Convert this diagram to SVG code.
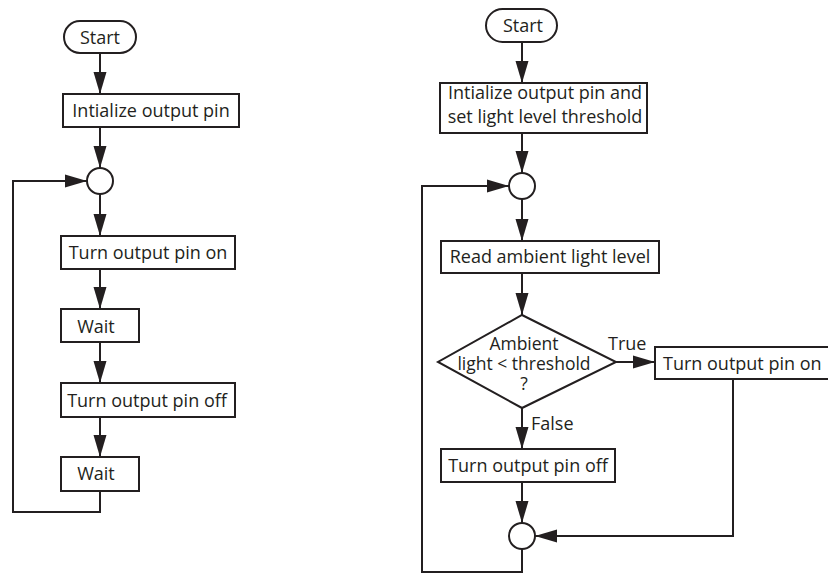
<svg xmlns="http://www.w3.org/2000/svg" width="828" height="573" viewBox="0 0 828 573">
<style>
.n{fill:#fff;stroke:#231f20;stroke-width:2}
.c{fill:none;stroke:#231f20;stroke-width:2}
text{font-family:"Open Sans","Noto Sans","Liberation Sans",sans-serif;font-size:18px;fill:#231f20}
.m{text-anchor:middle}
.d{font-size:17.5px}
</style>
<defs>
<marker id="ah" markerUnits="userSpaceOnUse" markerWidth="23" markerHeight="14" refX="22" refY="7" orient="auto">
<path d="M0,0.5 L22,7 L0,13.5 Z" fill="#231f20"/>
</marker>
</defs>
<rect width="828" height="573" fill="#fff"/>
<g id="connectors">
<path class="c" d="M100,53 V94" marker-end="url(#ah)"/>
<path class="c" d="M100,127 V168" marker-end="url(#ah)"/>
<path class="c" d="M100,194 V236" marker-end="url(#ah)"/>
<path class="c" d="M100,269 V309" marker-end="url(#ah)"/>
<path class="c" d="M100,342 V383" marker-end="url(#ah)"/>
<path class="c" d="M100,417 V457" marker-end="url(#ah)"/>
<path class="c" d="M100,491 V512 H13 V181 H87" marker-end="url(#ah)"/>
<path class="c" d="M522,42 V83" marker-end="url(#ah)"/>
<path class="c" d="M522,133 V173" marker-end="url(#ah)"/>
<path class="c" d="M522,199 V241" marker-end="url(#ah)"/>
<path class="c" d="M522,273 V315" marker-end="url(#ah)"/>
<path class="c" d="M616,362 H655" marker-end="url(#ah)"/>
<path class="c" d="M522,408 V449" marker-end="url(#ah)"/>
<path class="c" d="M522,482 V523" marker-end="url(#ah)"/>
<path class="c" d="M733,379 V536 H535" marker-end="url(#ah)"/>
<path class="c" d="M522,549 V572 H422 V186 H509" marker-end="url(#ah)"/>
<text x="608" y="350">True</text>
<text x="531" y="430">False</text>
</g>
<g id="l_start"><rect class="n" x="64" y="21" width="72" height="32" rx="16"/><text class="m" x="100" y="44">Start</text></g>
<g id="l_init"><rect class="n" x="63" y="94" width="176" height="33"/><text class="m" x="151" y="117">Intialize output pin</text></g>
<g id="l_join"><circle class="n" cx="100" cy="181" r="13"/></g>
<g id="l_on"><rect class="n" x="61" y="236" width="174" height="33"/><text class="m" x="148" y="259">Turn output pin on</text></g>
<g id="l_wait1"><rect class="n" x="61" y="309" width="78" height="33"/><text class="m" x="96" y="333">Wait</text></g>
<g id="l_off"><rect class="n" x="61" y="383" width="174" height="34"/><text class="m" x="147" y="407">Turn output pin off</text></g>
<g id="l_wait2"><rect class="n" x="61" y="457" width="78" height="34"/><text class="m" x="96" y="480">Wait</text></g>
<g id="r_start"><rect class="n" x="486" y="9" width="71" height="33" rx="16.5"/><text class="m" x="523" y="32">Start</text></g>
<g id="r_init"><rect class="n" x="440" y="83" width="207" height="50"/><text class="m" x="545" y="99">Intialize output pin and</text><text class="m" x="545" y="123">set light level threshold</text></g>
<g id="r_join"><circle class="n" cx="522" cy="186" r="13"/></g>
<g id="r_read"><rect class="n" x="441" y="241" width="218" height="32"/><text class="m" x="550" y="263">Read ambient light level</text></g>
<g id="r_dec"><polygon class="n" points="522,315 616,362 522,408 438,362"/><text class="m d" x="524" y="350">Ambient</text><text class="m d" x="524" y="370">light &lt; threshold</text><text class="m d" x="524" y="390">?</text></g>
<g id="r_on"><rect class="n" x="655" y="347" width="180" height="32"/><text x="663" y="370">Turn output pin on</text></g>
<g id="r_off"><rect class="n" x="441" y="449" width="174" height="33"/><text class="m" x="528" y="472">Turn output pin off</text></g>
<g id="r_merge"><circle class="n" cx="522" cy="536" r="13"/></g>
</svg>
